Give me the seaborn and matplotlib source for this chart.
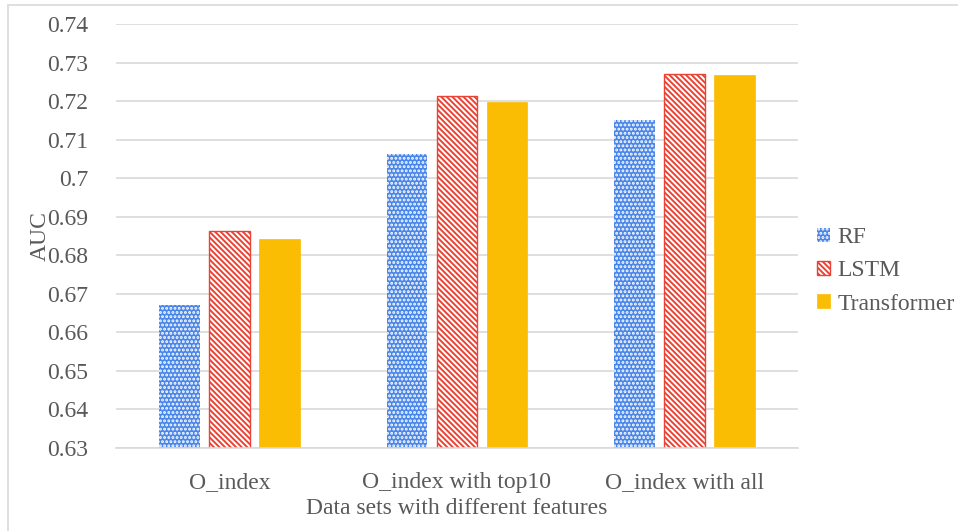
import numpy as np
import pandas as pd
import matplotlib.pyplot as plt
import seaborn as sns
from matplotlib.patches import Patch, Rectangle

# data
datasets = ['O_index', 'O_index with top10', 'O_index with all']
models = ['RF', 'LSTM', 'Transformer']
rf_auc = [0.6670, 0.7063, 0.7152]
lstm_auc = [0.6862, 0.7214, 0.7271]
transformer_auc = [0.6842, 0.7197, 0.7268]
y_ticks = [0.63, 0.64, 0.65, 0.66, 0.67, 0.68, 0.69, 0.7, 0.71, 0.72, 0.73, 0.74]

df = pd.DataFrame({
    'dataset': datasets * 3,
    'model': [m for m in models for _ in datasets],
    'auc': rf_auc + lstm_auc + transformer_auc,
})

sns.set_style("white")
plt.rcParams['font.family'] = ['Liberation Serif', 'DejaVu Serif']
plt.rcParams['hatch.linewidth'] = 1.4

blue = '#4a86e8'
red = '#ea4335'
yellow = '#fbbc04'
text_gray = '#595959'
grid_gray = '#d9d9d9'

fig = plt.figure(figsize=(9.58, 5.31), dpi=100)
ax = fig.add_axes([0.121, 0.1563, 0.712, 0.7985])

sns.barplot(data=df, x='dataset', y='auc', hue='model', order=datasets,
            hue_order=models, width=0.66, gap=0.19, legend=False, ax=ax,
            errorbar=None)

styles = {
    'RF': dict(facecolor=blue, edgecolor='white', hatch='....', linewidth=0),
    'LSTM': dict(facecolor='white', edgecolor=red, hatch='\\\\\\\\\\\\', linewidth=1),
    'Transformer': dict(facecolor=yellow, edgecolor=yellow, hatch=None, linewidth=0.5),
}
for cont, m in zip(ax.containers, models):
    for bar in cont:
        bar.set(**styles[m])

ax.set_ylim(0.63, 0.74)
ax.set_yticks(y_ticks)
ax.set_yticklabels([f'{v:g}' for v in y_ticks])
ax.grid(axis='y', color=grid_gray, linewidth=1.2)
ax.set_axisbelow(True)
for s in ['top', 'right', 'left']:
    ax.spines[s].set_visible(False)
ax.spines['bottom'].set_color(grid_gray)
ax.spines['bottom'].set_linewidth(1.2)
ax.tick_params(axis='both', length=0, labelsize=17, colors=text_gray)
ax.tick_params(axis='y', pad=20)
ax.tick_params(axis='x', pad=17)

ax.set_xlabel('Data sets with different features', fontsize=17, color=text_gray, labelpad=4)
ax.set_ylabel('AUC', fontsize=17, color=text_gray)
ax.yaxis.set_label_coords(-0.096, 0.5)

handles = [Patch(**styles[m], label=m) for m in models]
fig.legend(handles=handles, loc='center left', bbox_to_anchor=(0.853, 0.49),
           frameon=False, fontsize=17, labelcolor=text_gray,
           handlelength=0.55, handleheight=0.55, handletextpad=0.3,
           labelspacing=0.52, borderaxespad=0, borderpad=0)

fig.patches.append(Rectangle((8 / 958, -0.1), 1.2, 1 - 5 / 531 + 0.1,
                             transform=fig.transFigure, fill=False,
                             edgecolor=grid_gray, linewidth=1.2))

fig.savefig('out.png', dpi=100)
